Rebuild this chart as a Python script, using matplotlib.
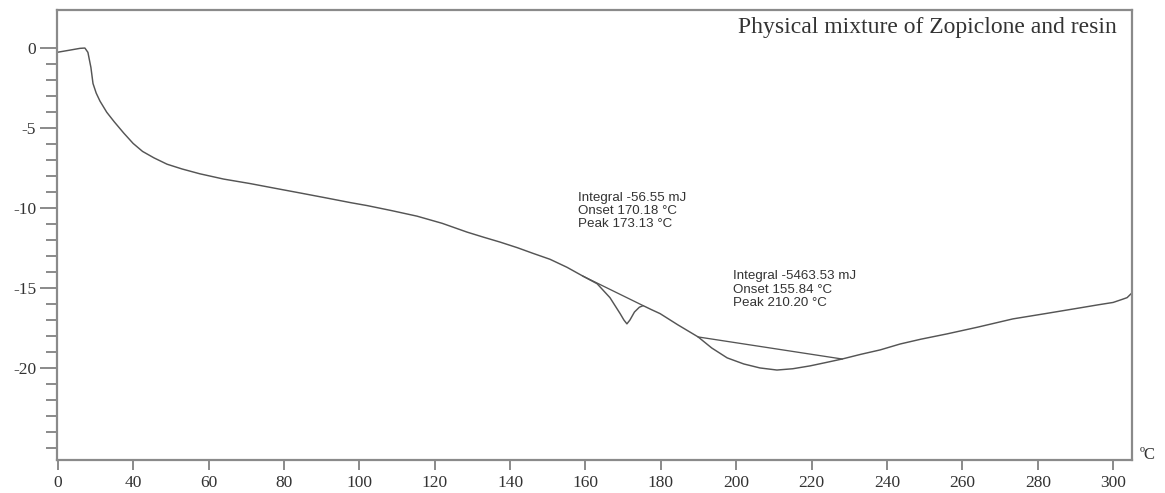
import matplotlib
matplotlib.use("Agg")
import matplotlib.pyplot as plt
from matplotlib.ticker import FixedLocator

# ---- data ----
temp = [19.8, 23, 25.9, 27.2, 28.0, 28.8, 29.35, 30.2, 31.2, 33,
        35, 37.5, 40.0, 42.5, 45.5, 49, 53, 57.7, 64, 71.0,
        77.5, 84.3, 91, 97.8, 102.1, 108.5, 115.3, 122, 128.6, 133,
        137.3, 142, 146.1, 150.6, 155.1, 159.3, 163.1, 166.5, 169.2, 170.2,
        171.0, 171.8, 173, 174.3, 175.3, 177.5, 179.8, 184.5, 189.9, 193.5,
        197.6, 202, 206.3, 210.8, 215, 219.6, 224, 228.1, 233, 238.2,
        243.5, 249, 255.9, 264, 273.4, 282, 291.2, 296, 300, 302.5,
        303.7, 305]
heat_flow = [-0.25, -0.12, 0.0, 0.02, -0.25, -1.2, -2.2, -2.8, -3.3, -4.0,
             -4.6, -5.3, -5.95, -6.45, -6.85, -7.25, -7.55, -7.85, -8.18, -8.46,
             -8.75, -9.05, -9.35, -9.66, -9.84, -10.15, -10.5, -10.95, -11.5, -11.82,
             -12.12, -12.48, -12.83, -13.2, -13.7, -14.25, -14.73, -15.6, -16.6, -17.0,
             -17.24, -17.0, -16.5, -16.2, -16.1, -16.35, -16.6, -17.3, -18.06, -18.75,
             -19.37, -19.75, -20.0, -20.13, -20.05, -19.87, -19.65, -19.44, -19.15, -18.87,
             -18.5, -18.2, -17.87, -17.45, -16.93, -16.6, -16.24, -16.05, -15.9, -15.7,
             -15.6, -15.3]

baseline1_x = [159.3, 175.3]
baseline1_y = [-14.25, -16.1]
baseline2_x = [189.9, 228.1]
baseline2_y = [-18.06, -19.44]

x_ticks = [20, 40, 60, 80, 100, 120, 140, 160, 180, 200, 220, 240, 260, 280, 300]
x_tick_labels = ["0", "40", "60", "80", "100", "120", "140", "160", "180",
                 "200", "220", "240", "260", "280", "300"]
y_ticks = [0, -5, -10, -15, -20]
y_tick_labels = ["0", "-5", "-10", "-15", "-20"]
y_minor_ticks = [-1, -2, -3, -4, -6, -7, -8, -9, -11, -12, -13, -14,
                 -16, -17, -18, -19, -21, -22, -23, -24, -25]

title = "Physical mixture of Zopiclone and resin"
peak1_text = "Integral -56.55 mJ\nOnset 170.18 \u00b0C\nPeak 173.13 \u00b0C"
peak2_text = "Integral -5463.53 mJ\nOnset 155.84 \u00b0C\nPeak 210.20 \u00b0C"

# ---- figure ----
fig = plt.figure(figsize=(11.65, 4.93), dpi=100)
ax = fig.add_axes([57 / 1165, 1 - 460 / 493, (1132 - 57) / 1165, (460 - 10) / 493])

line_col = "#555555"
ax.plot(temp, heat_flow, color=line_col, lw=1.05)
ax.plot(baseline1_x, baseline1_y, color=line_col, lw=0.95)
ax.plot(baseline2_x, baseline2_y, color=line_col, lw=0.95)

ax.set_xlim(19.8, 305)
ax.set_ylim(-25.76, 2.4)

spine_col = "#8a8a8a"
for s in ax.spines.values():
    s.set_color(spine_col)
    s.set_linewidth(1.6)

ax.set_xticks(x_ticks)
ax.set_xticklabels(x_tick_labels)
ax.set_yticks(y_ticks)
ax.set_yticklabels(y_tick_labels)
ax.yaxis.set_minor_locator(FixedLocator(y_minor_ticks))

serif = ["Liberation Serif", "DejaVu Serif"]
for lab in ax.get_xticklabels() + ax.get_yticklabels():
    lab.set_family(serif)
    lab.set_fontsize(12.5)
    lab.set_color("#333333")

ax.tick_params(axis="x", which="major", direction="out", length=7, width=1.4,
               color=spine_col, pad=4, top=False)
ax.tick_params(axis="y", which="major", direction="out", length=12, width=1.4,
               color=spine_col, pad=3, right=False)
ax.tick_params(axis="y", which="minor", direction="out", length=8, width=1.4,
               color=spine_col, right=False)

ax.text(0.986, 0.962, title, transform=ax.transAxes, ha="right", va="center",
        family=serif, fontsize=17, color="#333333")

sans = ["Liberation Sans", "DejaVu Sans"]
ax.text(158.0, -9.0, peak1_text, ha="left", va="top", family=sans,
        fontsize=9.6, color="#333333", linespacing=1.12)
ax.text(199.2, -13.9, peak2_text, ha="left", va="top", family=sans,
        fontsize=9.6, color="#333333", linespacing=1.12)

fig.text(1140 / 1165, 1 - 455 / 493, "\u00baC", ha="left", va="center",
         family=serif, fontsize=12, color="#333333")

fig.savefig("out.png", dpi=100)
